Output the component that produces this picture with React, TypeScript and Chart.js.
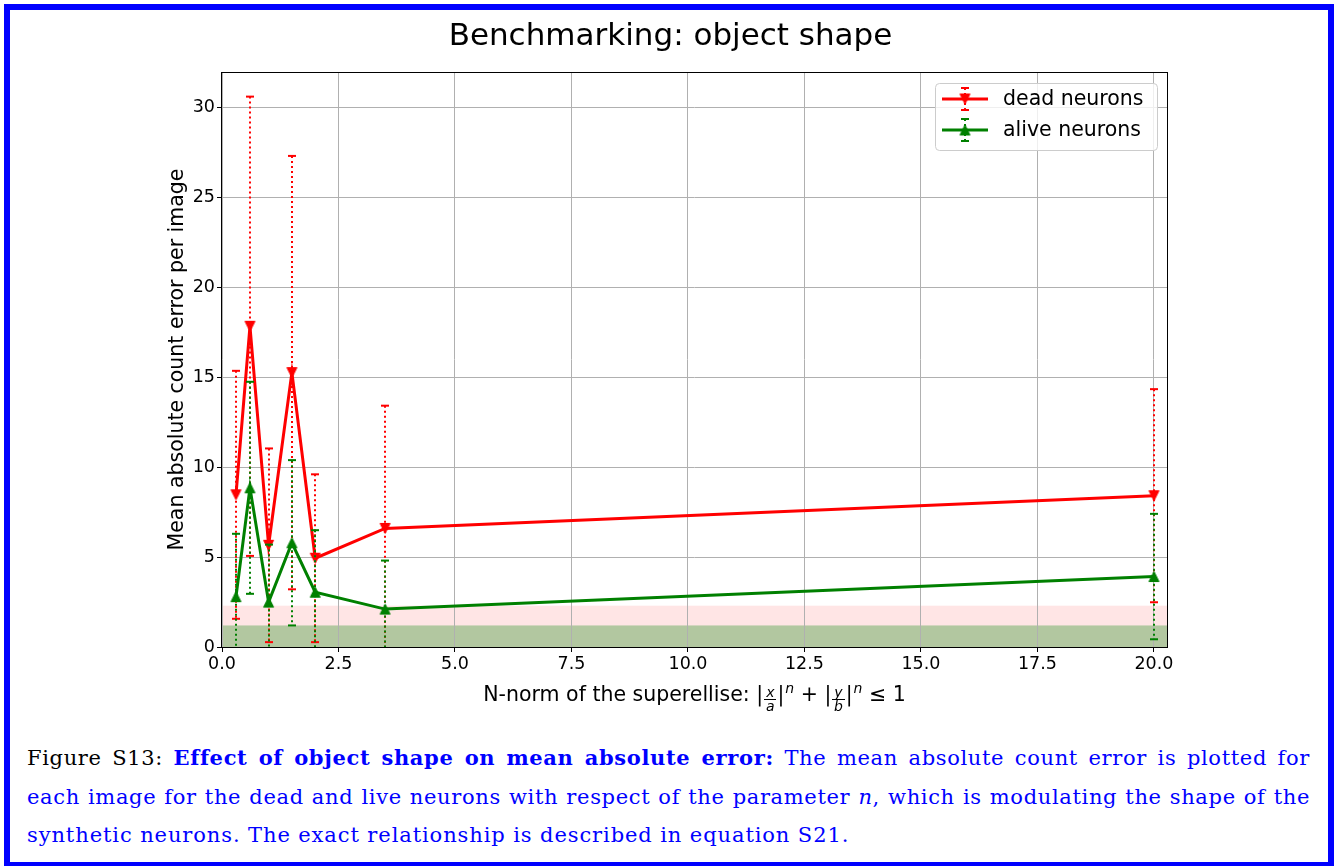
import React, { useEffect, useRef } from 'react';
import { Chart, registerables } from 'chart.js';

Chart.register(...registerables);

// ---------- data ----------
const nValues = [0.3, 0.6, 1.0, 1.5, 2.0, 3.5, 20.0];
const deadMean = [8.47, 17.85, 5.66, 15.27, 4.94, 6.6, 8.42];
const deadStd = [6.9, 12.78, 5.39, 12.06, 4.67, 6.83, 5.93];
const aliveMean = [2.8, 8.86, 2.5, 5.8, 3.05, 2.11, 3.92];
const aliveStd = [3.5, 5.9, 3.2, 4.6, 3.45, 2.7, 3.49];
const seriesLabels = ['dead neurons', 'alive neurons'];
const xTickValues = [0, 2.5, 5, 7.5, 10, 12.5, 15, 17.5, 20];
const xTickLabels = ['0.0', '2.5', '5.0', '7.5', '10.0', '12.5', '15.0', '17.5', '20.0'];
const yTickValues = [0, 5, 10, 15, 20, 25, 30];
const yTickLabels = ['0', '5', '10', '15', '20', '25', '30'];
const deadBandTop = 2.3;
const aliveBandTop = 1.2;

const RED = '#ff0000';
const GREEN = '#008000';
const FONT = 'DejaVu Sans';

function makeTriangle(color: string, down: boolean): HTMLCanvasElement {
  const c = document.createElement('canvas');
  c.width = 13;
  c.height = 13;
  const g = c.getContext('2d')!;
  g.fillStyle = color;
  g.strokeStyle = color;
  g.lineWidth = 1;
  g.beginPath();
  if (down) {
    g.moveTo(1.5, 1.5);
    g.lineTo(11.5, 1.5);
    g.lineTo(6.5, 11.5);
  } else {
    g.moveTo(6.5, 1.5);
    g.lineTo(11.5, 11.5);
    g.lineTo(1.5, 11.5);
  }
  g.closePath();
  g.fill();
  g.stroke();
  return c;
}

function drawErrorBar(ctx: CanvasRenderingContext2D, x: number, yTop: number, yBot: number, color: string) {
  ctx.strokeStyle = color;
  ctx.lineWidth = 2;
  ctx.setLineDash([2, 3]);
  ctx.beginPath();
  ctx.moveTo(x, yTop);
  ctx.lineTo(x, yBot);
  ctx.stroke();
  ctx.setLineDash([]);
  for (const y of [yTop, yBot]) {
    ctx.beginPath();
    ctx.moveTo(x - 4, y);
    ctx.lineTo(x + 4, y);
    ctx.stroke();
  }
}

const bandsPlugin = {
  id: 'bands',
  beforeDraw(chart: any) {
    const { ctx, chartArea } = chart;
    const ys = chart.scales.y;
    const y0 = ys.getPixelForValue(0);
    ctx.save();
    ctx.fillStyle = 'rgba(255,0,0,0.1)';
    const yp = ys.getPixelForValue(deadBandTop);
    ctx.fillRect(chartArea.left, yp, chartArea.width, y0 - yp);
    ctx.fillStyle = 'rgba(0,128,0,0.3)';
    const yg = ys.getPixelForValue(aliveBandTop);
    ctx.fillRect(chartArea.left, yg, chartArea.width, y0 - yg);
    ctx.restore();
  },
};

const errorBarPlugin = {
  id: 'errorBars',
  beforeDatasetDraw(chart: any, args: any) {
    const ds = chart.data.datasets[args.index];
    if (!ds.errors) return;
    const { ctx, chartArea } = chart;
    const xs = chart.scales.x;
    const ys = chart.scales.y;
    ctx.save();
    ctx.beginPath();
    ctx.rect(chartArea.left, chartArea.top, chartArea.width, chartArea.height);
    ctx.clip();
    ds.data.forEach((p: any, i: number) => {
      const e = ds.errors[i];
      const px = Math.round(xs.getPixelForValue(p.x));
      drawErrorBar(ctx, px, ys.getPixelForValue(p.y + e), ys.getPixelForValue(p.y - e), ds.borderColor);
    });
    ctx.restore();
  },
};

const framePlugin = {
  id: 'frame',
  afterDatasetsDraw(chart: any) {
    const { ctx, chartArea } = chart;
    ctx.save();
    ctx.strokeStyle = '#000';
    ctx.lineWidth = 1;
    const l = Math.round(chartArea.left) - 0.5;
    const t = Math.round(chartArea.top) + 0.5;
    const r = Math.round(chartArea.right) + 0.5;
    const b = Math.round(chartArea.bottom) + 0.5;
    ctx.strokeRect(l, t, r - l, b - t);
    ctx.restore();
  },
};

function roundRect(ctx: CanvasRenderingContext2D, x: number, y: number, w: number, h: number, r: number) {
  ctx.beginPath();
  ctx.moveTo(x + r, y);
  ctx.lineTo(x + w - r, y);
  ctx.arcTo(x + w, y, x + w, y + r, r);
  ctx.lineTo(x + w, y + h - r);
  ctx.arcTo(x + w, y + h, x + w - r, y + h, r);
  ctx.lineTo(x + r, y + h);
  ctx.arcTo(x, y + h, x, y + h - r, r);
  ctx.lineTo(x, y + r);
  ctx.arcTo(x, y, x + r, y, r);
  ctx.closePath();
}

const legendPlugin = {
  id: 'customLegend',
  afterDraw(chart: any) {
    const { ctx, chartArea } = chart;
    const right = chartArea.right - 10;
    const w = 222;
    const left = right - w;
    const top = chartArea.top + 11;
    const h = 67;
    ctx.save();
    roundRect(ctx, left + 0.5, top + 0.5, w, h, 4);
    ctx.fillStyle = 'rgba(255,255,255,0.8)';
    ctx.fill();
    ctx.strokeStyle = '#cccccc';
    ctx.lineWidth = 1;
    ctx.stroke();
    chart.data.datasets.forEach((ds: any, i: number) => {
      const cy = top + 16 + i * 31;
      const hx0 = left + 7;
      const hx1 = left + 53;
      const cx = (hx0 + hx1) / 2;
      drawErrorBar(ctx, Math.round(cx), cy - 11, cy + 11, ds.borderColor);
      ctx.strokeStyle = ds.borderColor;
      ctx.lineWidth = 3;
      ctx.beginPath();
      ctx.moveTo(hx0, cy);
      ctx.lineTo(hx1, cy);
      ctx.stroke();
      const img = ds.pointStyle as HTMLCanvasElement;
      ctx.drawImage(img, Math.round(cx) - img.width / 2, cy - img.height / 2);
      ctx.fillStyle = '#000';
      ctx.font = `20.5px "${FONT}"`;
      ctx.textBaseline = 'middle';
      ctx.textAlign = 'left';
      ctx.fillText(ds.label, left + 68, cy + 1);
    });
    ctx.restore();
  },
};

const Frac = ({ n, d }: { n: string; d: string }) => (
  <span
    style={{
      display: 'inline-flex',
      flexDirection: 'column',
      alignItems: 'center',
      fontSize: 14,
      fontStyle: 'italic',
      verticalAlign: '4px',
      margin: '0 1px',
    }}
  >
    <span style={{ borderBottom: '1px solid #000', padding: '0 2px', lineHeight: '13px' }}>{n}</span>
    <span style={{ lineHeight: '13px' }}>{d}</span>
  </span>
);

const Sup = ({ t }: { t: string }) => (
  <span style={{ fontSize: 14, fontStyle: 'italic', verticalAlign: '8px', marginLeft: 1 }}>{t}</span>
);

export default function App() {
  const canvasRef = useRef<HTMLCanvasElement>(null);

  useEffect(() => {
    const canvas = canvasRef.current!;
    Chart.defaults.font.family = FONT;
    const deadMarker = makeTriangle(RED, true);
    const aliveMarker = makeTriangle(GREEN, false);
    const chart = new Chart(canvas, {
      type: 'line',
      data: {
        datasets: [
          {
            label: seriesLabels[0],
            data: nValues.map((x, i) => ({ x, y: deadMean[i] })),
            errors: deadStd,
            borderColor: RED,
            backgroundColor: RED,
            borderWidth: 3,
            pointStyle: deadMarker,
            pointRadius: 6,
            fill: false,
            tension: 0,
            order: 2,
          } as any,
          {
            label: seriesLabels[1],
            data: nValues.map((x, i) => ({ x, y: aliveMean[i] })),
            errors: aliveStd,
            borderColor: GREEN,
            backgroundColor: GREEN,
            borderWidth: 3,
            pointStyle: aliveMarker,
            pointRadius: 6,
            fill: false,
            tension: 0,
            order: 1,
          } as any,
        ],
      },
      options: {
        responsive: false,
        animation: false,
        layout: { padding: 0 },
        plugins: {
          legend: { display: false },
          tooltip: { enabled: false },
          title: {
            display: true,
            text: 'Benchmarking: object shape',
            color: '#000',
            font: { size: 31, weight: 'normal', family: FONT },
            padding: { top: 18.4, bottom: 16.4 },
          },
        },
        scales: {
          x: {
            type: 'linear',
            min: 0,
            max: 20.28,
            afterBuildTicks: (s: any) => {
              s.ticks = xTickValues.map((v) => ({ value: v }));
            },
            afterFit: (s: any) => {
              s.height = 73;
            },
            ticks: {
              color: '#000',
              font: { size: 17.5 },
              padding: 2,
              maxRotation: 0,
              autoSkip: false,
              callback: (_v: any, i: number) => xTickLabels[i],
            },
            grid: { color: '#b0b0b0', lineWidth: 1, tickLength: 5, tickColor: '#000', drawTicks: true },
            border: { display: false },
          },
          y: {
            type: 'linear',
            position: 'left',
            min: 0,
            max: 32.0,
            afterBuildTicks: (s: any) => {
              s.ticks = yTickValues.map((v) => ({ value: v }));
            },
            afterFit: (s: any) => {
              s.width = 222;
            },
            ticks: {
              color: '#000',
              font: { size: 17.5 },
              padding: 2,
              autoSkip: false,
              callback: (_v: any, i: number) => yTickLabels[i],
            },
            grid: { color: '#b0b0b0', lineWidth: 1, tickLength: 5, tickColor: '#000', drawTicks: true },
            border: { display: false },
            title: {
              display: true,
              text: 'Mean absolute count error per image',
              color: '#000',
              font: { size: 20.5, family: FONT },
              padding: { top: 165, bottom: 0 },
            },
          },
          yR: {
            type: 'linear',
            position: 'right',
            display: true,
            min: 0,
            max: 1,
            afterFit: (s: any) => {
              s.width = 174;
            },
            ticks: { display: false },
            grid: { display: false },
            border: { display: false },
          },
        },
      } as any,
      plugins: [bandsPlugin, errorBarPlugin, framePlugin, legendPlugin],
    });
    return () => chart.destroy();
  }, []);

  const blue = '#0000ff';
  const capLine: React.CSSProperties = {
    position: 'absolute',
    left: 27,
    width: 1283,
    fontFamily: '"DejaVu Serif", serif',
    fontSize: 21,
    letterSpacing: '0.65px',
    lineHeight: '38.5px',
    whiteSpace: 'nowrap',
    color: blue,
  };

  return (
    <div style={{ position: 'absolute', left: 0, top: 0, width: 1341, height: 866, overflow: 'hidden', background: '#fff' }}>
      <div
        style={{
          position: 'absolute',
          left: 4,
          top: 4,
          width: 1330,
          height: 864,
          boxSizing: 'border-box',
          border: `6px solid ${blue}`,
        }}
      />
      <canvas ref={canvasRef} width={1341} height={720} style={{ position: 'absolute', left: 0, top: 0 }} />
      <div
        style={{
          position: 'absolute',
          left: 222,
          width: 945,
          top: 676,
          textAlign: 'center',
          fontFamily: FONT,
          fontSize: 20.5,
          lineHeight: '24px',
          color: '#000',
          whiteSpace: 'nowrap',
        }}
      >
        N-norm of the superellise: |<Frac n="x" d="a" />|<Sup t="n" /> + |<Frac n="y" d="b" />|<Sup t="n" /> ≤ 1
      </div>
      <div style={{ ...capLine, top: 739, textAlign: 'justify', textAlignLast: 'justify' }}>
        <span style={{ color: '#000' }}>Figure S13: </span>
        <b>Effect of object shape on mean absolute error:</b> The mean absolute count error is plotted for
      </div>
      <div style={{ ...capLine, top: 777.5, textAlign: 'justify', textAlignLast: 'justify' }}>
        each image for the dead and live neurons with respect of the parameter <i>n</i>, which is modulating the shape of the
      </div>
      <div style={{ ...capLine, top: 816, letterSpacing: '0.9px' }}>
        synthetic neurons. The exact relationship is described in equation S21.
      </div>
    </div>
  );
}
